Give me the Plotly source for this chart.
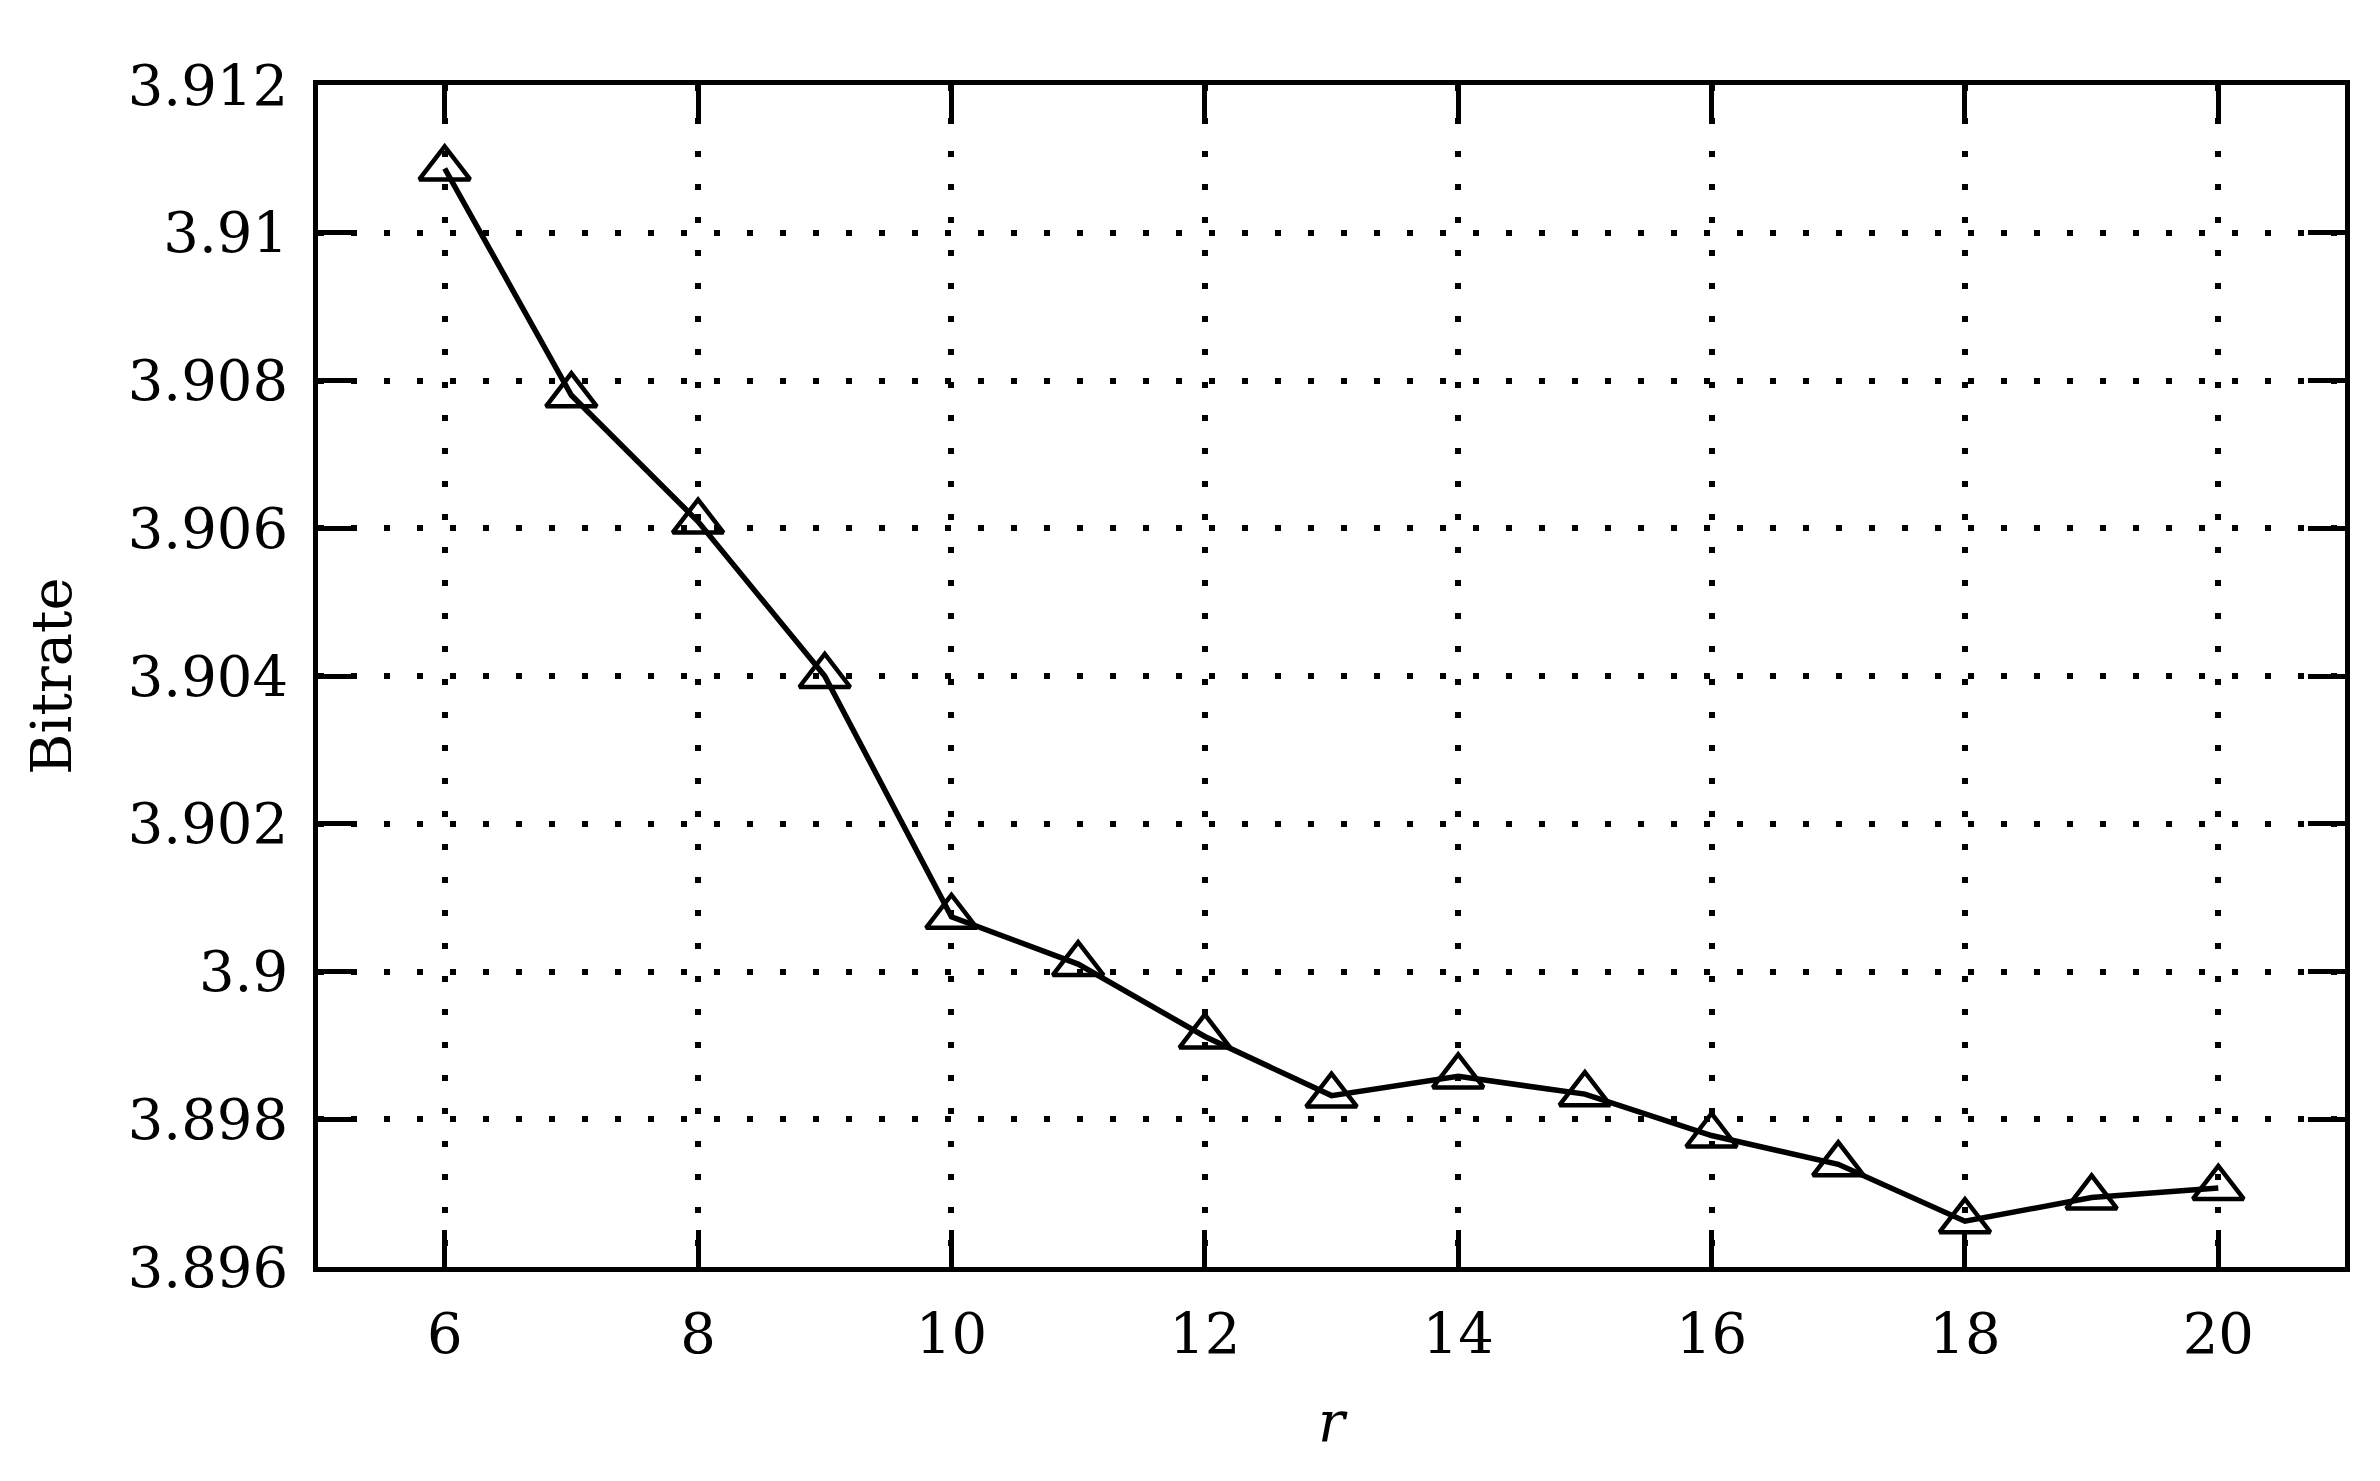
import plotly.graph_objects as go

r_values = [6, 7, 8, 9, 10, 11, 12, 13, 14, 15, 16, 17, 18, 19, 20]
bitrate = [3.91087, 3.90780, 3.90609, 3.90400, 3.90074, 3.90010, 3.89912,
           3.89832, 3.89858, 3.89834, 3.89778, 3.89739, 3.89662, 3.89694, 3.89707]

x_ticks = [6, 8, 10, 12, 14, 16, 18, 20]
y_ticks = [3.896, 3.898, 3.900, 3.902, 3.904, 3.906, 3.908, 3.910, 3.912]
y_ticktext = ["3.896", "3.898", "3.9", "3.902", "3.904", "3.906", "3.908", "3.91", "3.912"]

FONT = "DejaVu Serif"

fig = go.Figure()
fig.add_trace(go.Scatter(
    x=r_values,
    y=bitrate,
    mode="lines+markers",
    line=dict(color="black", width=5.5),
    marker=dict(symbol="triangle-up-open", size=44, color="black",
                line=dict(width=4.5, color="black")),
    showlegend=False,
))

axis_common = dict(
    showline=True, linecolor="black", linewidth=4.5, mirror="ticks",
    ticks="inside", ticklen=37, tickwidth=4.5, tickcolor="black",
    showgrid=True, gridcolor="black", gridwidth=6, griddash="6px,27px",
    zeroline=False,
    tickfont=dict(family=FONT, size=56, color="black"),
)

fig.update_xaxes(
    range=[5, 21], tickvals=x_ticks, ticklabelstandoff=14,
    title=dict(text="<i>r</i>", font=dict(family=FONT, size=56, color="black"), standoff=38),
    **axis_common,
)
fig.update_yaxes(
    range=[3.896, 3.912], tickvals=y_ticks, ticktext=y_ticktext, ticklabelstandoff=14,
    title=dict(text="Bitrate", font=dict(family=FONT, size=56, color="black"), standoff=40),
    **axis_common,
)

fig.update_layout(
    width=2380, height=1481,
    margin=dict(l=310, r=43, t=77, b=222),
    plot_bgcolor="white", paper_bgcolor="white",
)

fig.write_html("out.html")
